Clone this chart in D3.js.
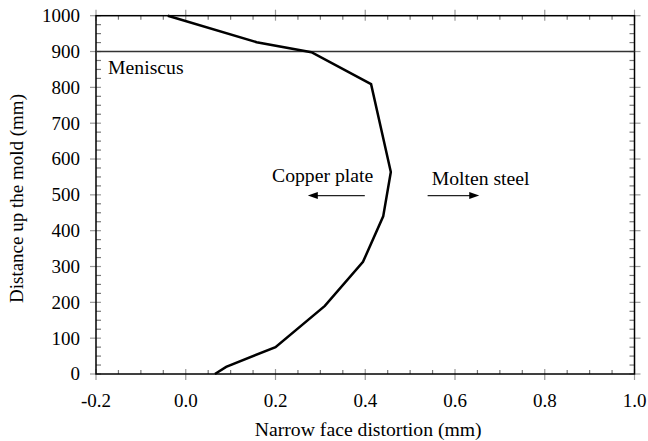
<!DOCTYPE html>
<html>
<head>
<meta charset="utf-8">
<script src="https://cdn.jsdelivr.net/npm/d3@7"></script>
<style>
  body { margin: 0; background: #fff; }
  text { font-family: "Liberation Serif", "Times New Roman", Times, "DejaVu Serif", serif; }
</style>
</head>
<body>
<svg id="chart" width="648" height="441"></svg>
<script>
// narrow face distortion profile
const distortion = [0.065, 0.09, 0.2, 0.31, 0.395, 0.44, 0.457, 0.413, 0.28, 0.158, -0.04];
const height = [0, 20, 75, 190, 313, 440, 564, 809, 898, 926, 1000];

const xTicks = [-0.2, 0.0, 0.2, 0.4, 0.6, 0.8, 1.0];
const yTicks = [0, 100, 200, 300, 400, 500, 600, 700, 800, 900, 1000];
const meniscus = 900;

const svg = d3.select("#chart");
const tickSize = 19;
const textSize = 19.7;
const serif = "Liberation Serif, Times New Roman, Times, serif";

const x = d3.scaleLinear().domain([-0.2, 1.0]).range([96, 634.5]);
const y = d3.scaleLinear().domain([0, 1000]).range([374, 15.7]);

const [x0, x1] = x.range();
const [y0, y1] = y.range();

// minor ticks (inward)
const xMinor = d3.range(-4, 21).filter(i => i % 4 !== 0).map(i => i * 0.05);
const yMinor = d3.range(0, 1001, 25).filter(v => v % 100 !== 0);

const ticks = svg.append("g").attr("stroke-width", 1.2);

ticks.selectAll(".xminor")
  .data(xMinor)
  .join("g")
  .each(function (d) {
    const g = d3.select(this);
    g.append("line").attr("x1", x(d)).attr("x2", x(d)).attr("y1", y0).attr("y2", y0 - 4).attr("stroke", "#777");
    g.append("line").attr("x1", x(d)).attr("x2", x(d)).attr("y1", y1).attr("y2", y1 + 4).attr("stroke", "#777");
  });

ticks.selectAll(".yminor")
  .data(yMinor)
  .join("g")
  .each(function (d) {
    const g = d3.select(this);
    g.append("line").attr("x1", x0).attr("x2", x0 + 5).attr("y1", y(d)).attr("y2", y(d)).attr("stroke", "#777");
    g.append("line").attr("x1", x1).attr("x2", x1 - 5).attr("y1", y(d)).attr("y2", y(d)).attr("stroke", "#777");
  });

// major ticks cross the frame
ticks.selectAll(".xmajor")
  .data(xTicks)
  .join("g")
  .each(function (d) {
    const g = d3.select(this);
    g.append("line").attr("x1", x(d)).attr("x2", x(d)).attr("y1", y0 - 5).attr("y2", y0 + 6).attr("stroke", "#999");
    g.append("line").attr("x1", x(d)).attr("x2", x(d)).attr("y1", y1 + 5).attr("y2", y1 - 6).attr("stroke", "#999");
  });

ticks.selectAll(".ymajor")
  .data(yTicks)
  .join("g")
  .each(function (d) {
    const g = d3.select(this);
    g.append("line").attr("x1", x0 - 6).attr("x2", x0 + 5).attr("y1", y(d)).attr("y2", y(d)).attr("stroke", "#999");
    g.append("line").attr("x1", x1 + 6).attr("x2", x1 - 5).attr("y1", y(d)).attr("y2", y(d)).attr("stroke", "#999");
  });

// frame
svg.append("rect")
  .attr("x", x0).attr("y", y1)
  .attr("width", x1 - x0).attr("height", y0 - y1)
  .attr("fill", "none").attr("stroke", "#000").attr("stroke-width", 1.5);

// meniscus line
svg.append("line")
  .attr("x1", x0).attr("x2", x1)
  .attr("y1", y(meniscus)).attr("y2", y(meniscus))
  .attr("stroke", "#333").attr("stroke-width", 1.5);

const labels = svg.append("g")
  .attr("font-family", serif)
  .attr("font-size", textSize)
  .attr("fill", "#000");

// tick labels, plain hyphen for negatives
const fmt = d => d.toFixed(1);

labels.append("g")
  .attr("font-size", tickSize)
  .attr("text-anchor", "middle")
  .selectAll("text")
  .data(xTicks)
  .join("text")
  .attr("x", d => x(d))
  .attr("y", 407)
  .text(fmt);

labels.append("g")
  .attr("font-size", tickSize)
  .attr("text-anchor", "end")
  .selectAll("text")
  .data(yTicks)
  .join("text")
  .attr("x", 80)
  .attr("y", d => y(d))
  .attr("dy", "0.34em")
  .text(d => d);

// axis titles
labels.append("text")
  .attr("x", (x0 + x1) / 2 + 3)
  .attr("y", 436)
  .attr("text-anchor", "middle")
  .text("Narrow face distortion (mm)");

labels.append("text")
  .attr("transform", "translate(23,198.5) rotate(-90)")
  .attr("font-size", tickSize)
  .attr("text-anchor", "middle")
  .text("Distance up the mold (mm)");

// distortion curve
const line = d3.line().x(d => x(d[0])).y(d => y(d[1]));
svg.append("path")
  .datum(d3.zip(distortion, height))
  .attr("d", line)
  .attr("fill", "none")
  .attr("stroke", "#000")
  .attr("stroke-width", 2.5)
  .attr("stroke-linejoin", "miter");

// annotations
labels.append("text")
  .attr("x", x(-0.173)).attr("y", y(837))
  .text("Meniscus");

labels.append("text")
  .attr("x", x(0.305)).attr("y", y(537))
  .attr("text-anchor", "middle")
  .text("Copper plate");

labels.append("text")
  .attr("x", x(0.548)).attr("y", y(527))
  .text("Molten steel");

function arrow(from, to, yv) {
  const xa = x(from), xb = x(to), ya = y(yv);
  const dir = Math.sign(xb - xa);
  svg.append("line")
    .attr("x1", xa).attr("x2", xb - dir * 8)
    .attr("y1", ya).attr("y2", ya)
    .attr("stroke", "#222").attr("stroke-width", 1.3);
  svg.append("path")
    .attr("d", `M${xb},${ya} L${xb - dir * 10},${ya - 3.5} L${xb - dir * 10},${ya + 3.5} Z`)
    .attr("fill", "#000");
}

arrow(0.399, 0.272, 498);
arrow(0.539, 0.654, 498);
</script>
</body>
</html>
